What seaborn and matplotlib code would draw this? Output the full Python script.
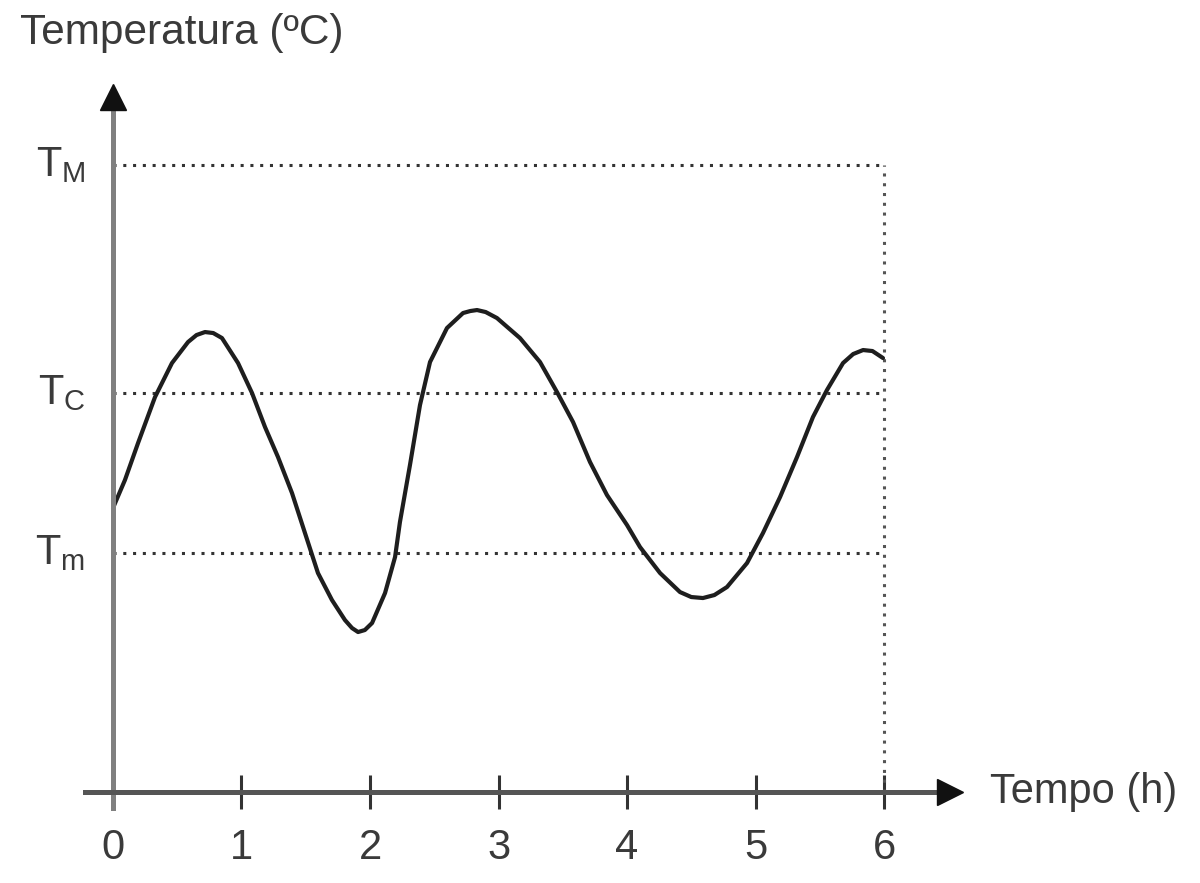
import matplotlib
matplotlib.use('Agg')
import matplotlib.pyplot as plt
import seaborn as sns
import pandas as pd

# curve (hours, temperature in arbitrary units)
hours = [0.0, 0.093, 0.195, 0.327, 0.459, 0.584, 0.65, 0.716, 0.78, 0.848,
         0.973, 1.082, 1.183, 1.284, 1.393, 1.494, 1.595, 1.704, 1.805, 1.86,
         1.907, 1.96, 2.016, 2.117, 2.195, 2.233, 2.311, 2.389, 2.467, 2.599,
         2.724, 2.78, 2.833, 2.90, 2.988, 3.167, 3.323, 3.455, 3.580, 3.712,
         3.844, 4.000, 4.101, 4.257, 4.412, 4.50, 4.591, 4.68, 4.778, 4.934,
         5.058, 5.191, 5.323, 5.447, 5.556, 5.681, 5.76, 5.837, 5.91, 5.992]
temp = [2.84, 3.12, 3.49, 3.95, 4.29, 4.50, 4.57, 4.60, 4.59, 4.54,
        4.29, 3.99, 3.65, 3.35, 2.99, 2.59, 2.19, 1.92, 1.72, 1.64,
        1.60, 1.62, 1.69, 1.99, 2.35, 2.70, 3.27, 3.87, 4.30, 4.64,
        4.79, 4.81, 4.82, 4.80, 4.74, 4.54, 4.30, 4.00, 3.70, 3.30,
        2.97, 2.67, 2.45, 2.19, 2.00, 1.95, 1.94, 1.97, 2.05, 2.29,
        2.59, 2.95, 3.35, 3.75, 4.02, 4.29, 4.38, 4.42, 4.41, 4.34]

x_ticks = [0, 1, 2, 3, 4, 5, 6]
level_values = [2.39, 3.99, 6.27]
level_labels = [r'T$_\mathregular{m}$', r'T$_\mathregular{C}$', r'T$_\mathregular{M}$']

df = pd.DataFrame({'Tempo': hours, 'Temperatura': temp})

sns.set_theme(style='white')
plt.rcParams['font.family'] = ['Liberation Sans', 'DejaVu Sans']
plt.rcParams['mathtext.fontset'] = 'custom'
plt.rcParams['mathtext.rm'] = 'Liberation Sans'

fig = plt.figure(figsize=(12, 8.83), dpi=100)
ax = fig.add_axes([0.0706, 0.0849, 0.7207, 0.8052])

text_color = '#3a3a3a'

# dotted reference lines
ax.hlines(level_values, 0, x_ticks[-1], colors='#333333', linestyles=(0, (1, 2.2)), lw=2.2, zorder=1)
ax.vlines(x_ticks[-1], 0, max(level_values), colors='#555555', linestyles=(0, (1, 2.2)), lw=2.2, zorder=1)

sns.lineplot(data=df, x='Tempo', y='Temperatura', ax=ax, color='#1e1e1e', lw=3,
             estimator=None, sort=False, zorder=3, solid_joinstyle='round')

ax.set_xlim(-0.22, 6.51)
ax.set_ylim(-0.16, 6.95)

# axis lines crossing at origin, with arrows
for side in ['top', 'right']:
    ax.spines[side].set_visible(False)
ax.spines['left'].set_position(('data', 0))
ax.spines['bottom'].set_position(('data', 0))
ax.spines['left'].set_color('#808080')
ax.spines['bottom'].set_color('#555555')
ax.spines['left'].set_linewidth(3.6)
ax.spines['bottom'].set_linewidth(3.6)
ax.spines['left'].set_zorder(4)
ax.spines['bottom'].set_zorder(4)
ax.plot(1, 0, '>', color='#111111', ms=19, transform=ax.get_yaxis_transform(), clip_on=False, zorder=5)
ax.plot(0, 1, '^', color='#111111', ms=19, transform=ax.get_xaxis_transform(), clip_on=False, zorder=5)

ax.set_xticks(x_ticks)
ax.set_xticklabels([str(t) for t in x_ticks])
ax.tick_params(axis='x', direction='inout', length=24, width=2.2, color='#333333',
               pad=14, labelsize=30, labelcolor=text_color, bottom=True)
ax.set_yticks(level_values)
ax.set_yticklabels(level_labels)
ax.tick_params(axis='y', length=0, pad=20, labelsize=30, labelcolor=text_color, left=True)
for lab in ax.get_yticklabels():
    lab.set_verticalalignment('center')

ax.set_xlabel('Tempo (h)', fontsize=30, color=text_color, ha='left', va='center')
ax.xaxis.set_label_coords(1.0468, 0.0225)
ax.set_ylabel('Temperatura (ºC)', fontsize=30.5, color=text_color, rotation=0, ha='left', va='center')
ax.yaxis.set_label_coords(-0.0748, 1.090)

fig.savefig('out.png', dpi=100)
